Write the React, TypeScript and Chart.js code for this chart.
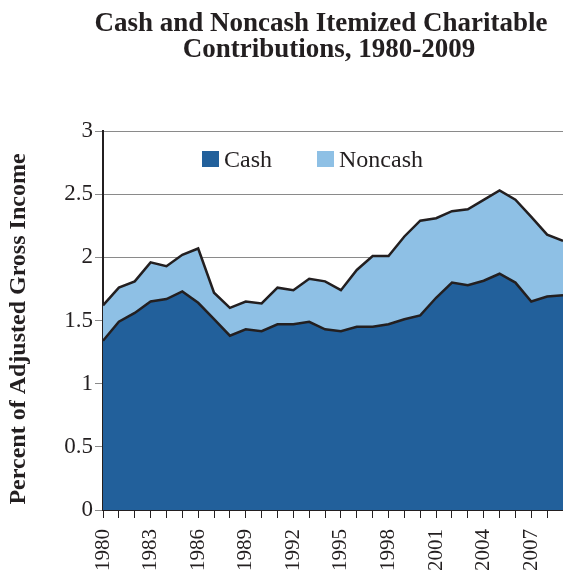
import React, { useEffect, useRef } from "react";
import { Chart, registerables } from "chart.js";

Chart.register(...registerables);

const years = [
  "1980", "1981", "1982", "1983", "1984", "1985", "1986", "1987", "1988", "1989",
  "1990", "1991", "1992", "1993", "1994", "1995", "1996", "1997", "1998", "1999",
  "2000", "2001", "2002", "2003", "2004", "2005", "2006", "2007", "2008", "2009",
];

const cash = [
  1.34, 1.49, 1.56, 1.65, 1.67, 1.73, 1.64, 1.51, 1.38, 1.43,
  1.415, 1.47, 1.47, 1.49, 1.43, 1.415, 1.45, 1.45, 1.47, 1.51,
  1.54, 1.68, 1.80, 1.78, 1.815, 1.87, 1.80, 1.65, 1.69, 1.70,
];

const noncash = [
  0.28, 0.27, 0.25, 0.31, 0.26, 0.29, 0.43, 0.21, 0.22, 0.22,
  0.22, 0.29, 0.27, 0.34, 0.38, 0.325, 0.45, 0.56, 0.54, 0.655,
  0.75, 0.63, 0.565, 0.60, 0.64, 0.66, 0.656, 0.67, 0.49, 0.43,
];

const yTicks = [0, 0.5, 1, 1.5, 2, 2.5, 3];
const titleLines = ["Cash and Noncash Itemized Charitable", "Contributions, 1980-2009"];
const seriesNames = ["Cash", "Noncash"];
const yTitle = "Percent of Adjusted Gross Income";

const CASH_COLOR = "#22609b";
const NONCASH_COLOR = "#8ec0e5";
const INK = "#231f20";
const SERIF = "'Liberation Serif', 'Times New Roman', serif";

const decorPlugin = {
  id: "decor",
  afterDraw(chart: any) {
    const ctx = chart.ctx;
    ctx.save();
    // Title
    ctx.fillStyle = INK;
    ctx.font = `bold 27px ${SERIF}`;
    ctx.textAlign = "center";
    ctx.textBaseline = "alphabetic";
    ctx.fillText(titleLines[0], 321, 31);
    ctx.fillText(titleLines[1], 329, 57);

    // Y title
    ctx.save();
    ctx.translate(19, 329);
    ctx.rotate(-Math.PI / 2);
    ctx.font = `bold 24px ${SERIF}`;
    ctx.textAlign = "center";
    ctx.textBaseline = "middle";
    ctx.fillText(yTitle, 0, 0);
    ctx.restore();

    // Legend
    const colors = [CASH_COLOR, NONCASH_COLOR];
    const xs = [202, 317];
    ctx.font = `24px ${SERIF}`;
    ctx.textAlign = "left";
    ctx.textBaseline = "alphabetic";
    seriesNames.forEach((name, i) => {
      ctx.fillStyle = colors[i];
      ctx.fillRect(xs[i], 151, 17, 16);
      ctx.fillStyle = INK;
      ctx.fillText(name, xs[i] + 22, 167);
    });
    ctx.restore();
  },
};

export default function App() {
  const ref = useRef<HTMLCanvasElement | null>(null);

  useEffect(() => {
    if (!ref.current) return;
    const chart = new Chart(ref.current, {
      type: "line",
      data: {
        labels: years,
        datasets: [
          {
            label: seriesNames[0],
            data: cash,
            borderColor: INK,
            borderWidth: 2.5,
            backgroundColor: CASH_COLOR,
            fill: "origin",
            pointRadius: 0,
            tension: 0,
          },
          {
            label: seriesNames[1],
            data: noncash,
            borderColor: INK,
            borderWidth: 2.5,
            backgroundColor: NONCASH_COLOR,
            fill: "-1",
            pointRadius: 0,
            tension: 0,
          },
        ],
      },
      options: {
        responsive: false,
        animation: false,
        layout: { padding: { top: 131, left: 0, right: 0, bottom: 0 } },
        plugins: {
          legend: { display: false },
          title: { display: false },
          tooltip: { enabled: false },
        },
        scales: {
          x: {
            type: "category",
            offset: false,
            grid: {
              drawOnChartArea: false,
              drawTicks: true,
              tickLength: 8,
              color: INK,
              lineWidth: 1,
            },
            border: { display: true, color: INK, width: 2 },
            ticks: {
              autoSkip: false,
              maxRotation: 90,
              minRotation: 90,
              padding: 11,
              color: INK,
              font: { family: SERIF, size: 21 },
              callback: (_v: any, i: number) => (i % 3 === 0 ? years[i] : ""),
            },
            afterFit: (s: any) => {
              s.height = 64;
              s.paddingLeft = 0;
              s.paddingRight = 0;
            },
          },
          y: {
            stacked: true,
            min: 0,
            max: 3,
            afterBuildTicks: (s: any) => {
              s.ticks = yTicks.map((v) => ({ value: v }));
            },
            grid: {
              color: "#8a8a8a",
              lineWidth: 1,
              tickLength: 8,
            },
            border: { display: true, color: INK, width: 2 },
            ticks: {
              padding: 2,
              color: INK,
              font: { family: SERIF, size: 23 },
              callback: (v: any) => String(v),
            },
            afterFit: (s: any) => {
              s.width = 103;
            },
          },
        },
      },
      plugins: [decorPlugin],
    });
    return () => chart.destroy();
  }, []);

  return (
    <div style={{ position: "absolute", left: 0, top: 0, width: 563, height: 574 }}>
      <canvas ref={ref} width={563} height={574} style={{ width: 563, height: 574 }} />
    </div>
  );
}
